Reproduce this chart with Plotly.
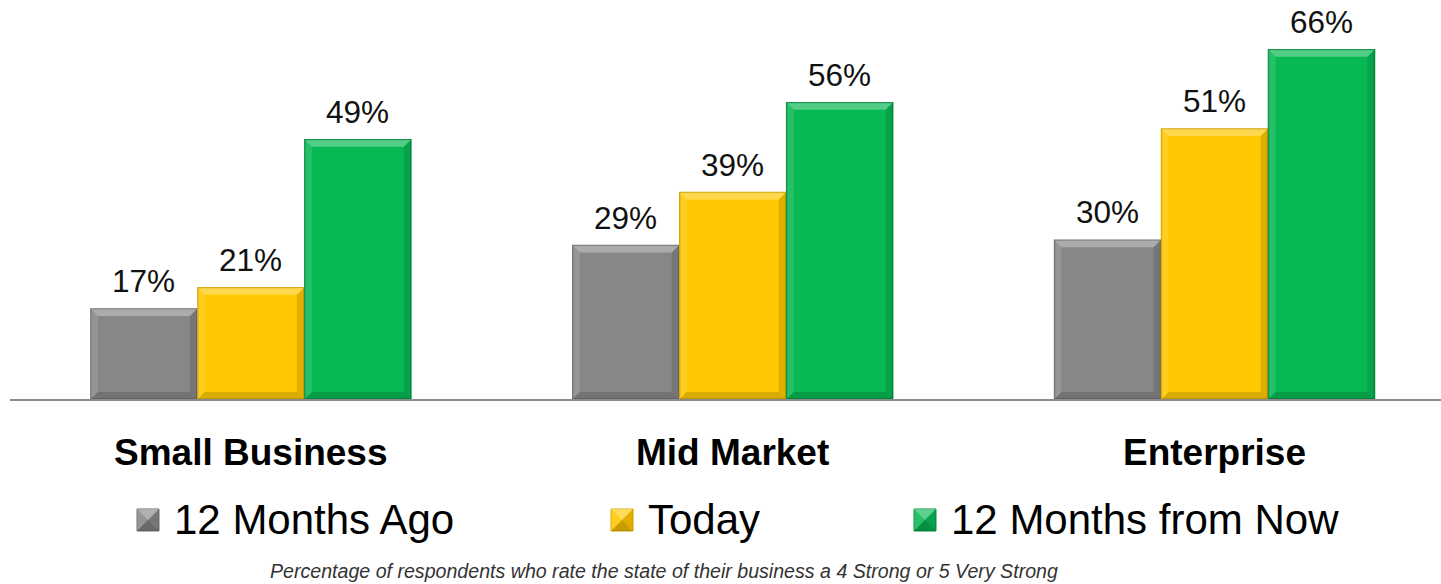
import plotly.graph_objects as go

# ---- data ----
categories = ["Small Business", "Mid Market", "Enterprise"]
series_names = ["12 Months Ago", "Today", "12 Months from Now"]
months_ago = [17, 29, 30]
today = [21, 39, 51]
months_ahead = [49, 56, 66]
series_values = [months_ago, today, months_ahead]
footnote = "Percentage of respondents who rate the state of their business a 4 Strong or 5 Very Strong"

# ---- styling ----
fills = ["#878787", "#FFC800", "#07B853"]
edges = ["#6f6f6f", "#D8A600", "#058F40"]
FONT = "Arial, Liberation Sans, sans-serif"
W, H = 1441, 584
M_L, M_R, M_T, M_B = 10, 0, 0, 185
X_RANGE = [-0.5, 2.47]
Y_RANGE = [0, 75.4]
BAR_W = 0.22
PITCH = 0.222
BEVEL_PX = 7

plot_w = W - M_L - M_R
plot_h = H - M_T - M_B
bev_x = BEVEL_PX * (X_RANGE[1] - X_RANGE[0]) / plot_w
bev_y = BEVEL_PX * (Y_RANGE[1] - Y_RANGE[0]) / plot_h


def px_x(px):
    return (px - M_L) / plot_w


def px_y(py):
    return (H - M_B - py) / plot_h


def poly(pts):
    return "M" + " L".join(f"{x},{y}" for x, y in pts) + " Z"


def bevel(fig, x0, x1, y0, y1, bx, by, xref, yref):
    """Soft chiselled edge: light top/left, dark right/bottom."""
    faces = [
        ([(x0, y1), (x1, y1), (x1 - bx, y1 - by), (x0 + bx, y1 - by)], "rgba(255,255,255,0.30)"),
        ([(x0, y1), (x0 + bx, y1 - by), (x0 + bx, y0 + by), (x0, y0)], "rgba(255,255,255,0.12)"),
        ([(x1, y1), (x1 - bx, y1 - by), (x1 - bx, y0 + by), (x1, y0)], "rgba(0,0,0,0.12)"),
        ([(x0, y0), (x0 + bx, y0 + by), (x1 - bx, y0 + by), (x1, y0)], "rgba(0,0,0,0.15)"),
    ]
    for pts, col in faces:
        fig.add_shape(type="path", path=poly(pts), xref=xref, yref=yref,
                      fillcolor=col, line=dict(width=0), layer="above")


fig = go.Figure()

for j, (name, vals) in enumerate(zip(series_names, series_values)):
    xs = [i + (j - 1) * PITCH for i in range(len(categories))]
    fig.add_trace(go.Bar(
        x=xs, y=vals, name=name, width=BAR_W,
        marker=dict(color=fills[j], line=dict(color=edges[j], width=1.5)),
        showlegend=False, hoverinfo="skip",
    ))
    for x, v in zip(xs, vals):
        bevel(fig, x - BAR_W / 2, x + BAR_W / 2, 0, v, bev_x, bev_y, "x", "y")
        fig.add_annotation(
            x=x, y=v, xref="x", yref="y", text=f"{v}%", showarrow=False,
            yanchor="bottom", yshift=8,
            font=dict(family=FONT, size=31.5, color="#111111"),
        )

# category labels under the axis
for i, cat in enumerate(categories):
    fig.add_annotation(
        x=i, y=px_y(452), xref="x", yref="paper", text=f"<b>{cat}</b>",
        showarrow=False, yanchor="middle",
        font=dict(family=FONT, size=37, color="#000000"),
    )

# legend row
legend_x = [137, 611, 914]
for j, name in enumerate(series_names):
    x0, x1 = legend_x[j], legend_x[j] + 22
    y0, y1 = 509, 531
    fig.add_shape(type="rect", xref="paper", yref="paper",
                  x0=px_x(x0), x1=px_x(x1), y0=px_y(y1), y1=px_y(y0),
                  fillcolor=fills[j], line=dict(color=edges[j], width=1))
    cx, cy = px_x((x0 + x1) / 2), px_y((y0 + y1) / 2)
    tl, tr = (px_x(x0), px_y(y0)), (px_x(x1), px_y(y0))
    bl, br = (px_x(x0), px_y(y1)), (px_x(x1), px_y(y1))
    for pts, col in [([tl, tr, (cx, cy)], "rgba(255,255,255,0.35)"),
                     ([tl, bl, (cx, cy)], "rgba(255,255,255,0.12)"),
                     ([tr, br, (cx, cy)], "rgba(0,0,0,0.12)"),
                     ([bl, br, (cx, cy)], "rgba(0,0,0,0.22)")]:
        fig.add_shape(type="path", path=poly(pts), xref="paper", yref="paper",
                      fillcolor=col, line=dict(width=0))
    fig.add_annotation(
        x=px_x(x1 + 13), y=px_y(519), xref="paper", yref="paper",
        text=name, showarrow=False, xanchor="left", yanchor="middle",
        font=dict(family=FONT, size=42, color="#000000"),
    )

fig.add_annotation(
    x=px_x(664), y=px_y(571), xref="paper", yref="paper",
    text=f"<i>{footnote}</i>", showarrow=False, yanchor="middle",
    font=dict(family=FONT, size=19.6, color="#333333"),
)

fig.update_layout(
    width=W, height=H,
    margin=dict(l=M_L, r=M_R, t=M_T, b=M_B),
    paper_bgcolor="white", plot_bgcolor="white",
    barmode="overlay", showlegend=False,
    xaxis=dict(range=X_RANGE, showticklabels=False, showgrid=False,
               zeroline=False, showline=True, linecolor="#8c8c8c", linewidth=2,
               ticks=""),
    yaxis=dict(range=Y_RANGE, visible=False, showgrid=False, zeroline=False),
)

fig.write_html("out.html")
